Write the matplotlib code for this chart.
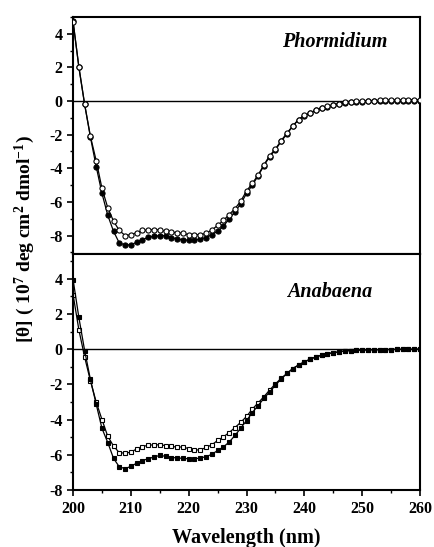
import numpy as np
import matplotlib
matplotlib.use("Agg")
import matplotlib.pyplot as plt

plt.rcParams['font.family'] = ['Liberation Serif', 'DejaVu Serif']
plt.rcParams['font.weight'] = 'bold'
plt.rcParams['mathtext.default'] = 'regular'
plt.rcParams['axes.unicode_minus'] = False

wavelength = np.arange(200, 261)

# Phormidium, filled and open circles
phor_filled = [4.75, 2.0, -0.2, -2.15, -3.9, -5.5, -6.8, -7.75, -8.45, -8.55,
               -8.55, -8.4, -8.25, -8.1, -8.05, -8.0, -8.0, -8.12, -8.2, -8.25,
               -8.28, -8.28, -8.2, -8.12, -7.95, -7.75, -7.45, -7.0, -6.6, -6.1,
               -5.5, -5.0, -4.45, -3.85, -3.3, -2.9, -2.4, -1.95, -1.5, -1.1,
               -0.88, -0.72, -0.55, -0.4, -0.33, -0.25, -0.15, -0.1, -0.07, -0.05,
               -0.03, -0.02, -0.01, 0.0, 0.0, 0.01, 0.02, 0.02, 0.03, 0.03,
               0.03]
phor_open = [4.7, 2.05, -0.2, -2.1, -3.55, -5.2, -6.35, -7.15, -7.7, -8.0,
             -7.95, -7.83, -7.7, -7.67, -7.65, -7.67, -7.75, -7.8, -7.83, -7.87,
             -7.95, -7.95, -7.95, -7.87, -7.67, -7.4, -7.1, -6.75, -6.4, -5.95,
             -5.35, -4.9, -4.4, -3.8, -3.25, -2.85, -2.35, -1.9, -1.48, -1.1,
             -0.86, -0.7, -0.53, -0.4, -0.32, -0.24, -0.15, -0.08, -0.04, -0.02,
             0.0, 0.02, 0.03, 0.04, 0.05, 0.06, 0.07, 0.07, 0.08, 0.08,
             0.08]

# Anabaena, filled and open squares
anab_filled = [3.95, 1.8, -0.08, -1.72, -3.13, -4.5, -5.3, -6.2, -6.68, -6.78,
               -6.65, -6.47, -6.32, -6.22, -6.12, -6.03, -6.08, -6.15, -6.17, -6.2,
               -6.22, -6.22, -6.18, -6.1, -5.97, -5.75, -5.55, -5.27, -4.9, -4.48,
               -4.05, -3.6, -3.2, -2.8, -2.42, -2.05, -1.68, -1.38, -1.1, -0.9,
               -0.72, -0.57, -0.44, -0.34, -0.26, -0.2, -0.15, -0.1, -0.08, -0.06,
               -0.05, -0.04, -0.03, -0.03, -0.02, -0.02, -0.01, -0.01, -0.01, 0.0,
               0.0]
anab_open = [3.1, 1.1, -0.45, -1.8, -3.0, -4.0, -4.95, -5.5, -5.88, -5.9,
             -5.85, -5.66, -5.53, -5.45, -5.43, -5.43, -5.47, -5.52, -5.56, -5.55,
             -5.65, -5.72, -5.72, -5.58, -5.43, -5.18, -4.98, -4.73, -4.45, -4.15,
             -3.82, -3.4, -3.05, -2.7, -2.32, -1.97, -1.65, -1.38, -1.1, -0.9,
             -0.72, -0.57, -0.44, -0.34, -0.26, -0.2, -0.15, -0.1, -0.08, -0.06,
             -0.05, -0.04, -0.03, -0.03, -0.02, -0.02, -0.01, -0.01, -0.01, 0.0,
             0.0]


def style_axis(ax, ylim):
    ax.set_xticks(np.arange(200, 261, 10))
    ax.set_xticks(np.arange(205, 260, 10), minor=True)
    ax.set_yticks(np.arange(-8, 5, 2))
    ax.set_yticks(np.arange(-9, 6, 1), minor=True)
    # set limits after ticks, set_ticks can widen the view
    ax.set_xlim(200, 260)
    ax.set_ylim(*ylim)
    ax.tick_params(which='major', direction='out', length=4, width=1.2,
                   labelsize=11.5)
    ax.tick_params(which='minor', direction='out', length=2.5, width=1.0)
    for s in ax.spines.values():
        s.set_linewidth(1.5)
    ax.axhline(0, color='black', lw=1.0, zorder=1)


def main():
    fig = plt.figure(figsize=(4.35, 5.47), dpi=100)
    ax1 = fig.add_axes([0.168, 0.5356, 0.7975, 0.4334])
    ax2 = fig.add_axes([0.168, 0.104, 0.7975, 0.4316])

    ### Phormidium (open circles drawn over filled)
    ax1.plot(wavelength, phor_filled, '-', color='black', lw=0.9,
             marker='o', ms=3.7, mfc='black', mec='black', mew=0.8, zorder=2)
    ax1.plot(wavelength, phor_open, '-', color='black', lw=0.9,
             marker='o', ms=3.7, mfc='white', mec='black', mew=0.8, zorder=3)
    style_axis(ax1, (-9.1, 5.0))
    ax1.tick_params(labelbottom=False)
    ax1.text(0.905, 0.895, 'Phormidium', transform=ax1.transAxes,
             ha='right', va='center', fontsize=14.5, fontstyle='italic',
             fontweight='bold')

    ### Anabaena (filled squares drawn over open)
    ax2.plot(wavelength, anab_open, '-', color='black', lw=0.9,
             marker='s', ms=3.4, mfc='white', mec='black', mew=0.8, zorder=2)
    ax2.plot(wavelength, anab_filled, '-', color='black', lw=0.9,
             marker='s', ms=3.4, mfc='black', mec='black', mew=0.8, zorder=3)
    style_axis(ax2, (-8.0, 5.4))
    ax2.text(0.862, 0.839, 'Anabaena', transform=ax2.transAxes,
             ha='right', va='center', fontsize=14.5, fontstyle='italic',
             fontweight='bold')
    ax2.set_xlabel('Wavelength (nm)', fontsize=14.5, fontweight='bold',
                   labelpad=8)

    fig.text(0.058, 1 - 239 / 547, r'[θ] ( 10$^{7}$ deg cm$^{2}$ dmol$^{-1}$)',
             rotation=90, ha='center', va='center', fontsize=14,
             fontweight='bold')

    fig.savefig('out.png', dpi=100)


if __name__ == "__main__":
    main()
